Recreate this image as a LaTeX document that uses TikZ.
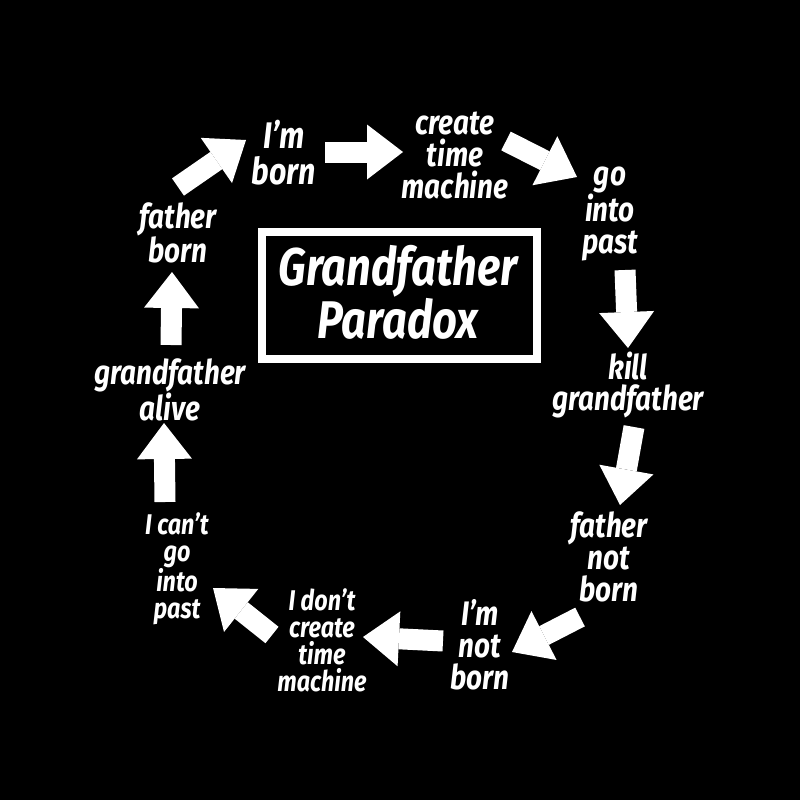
\documentclass[tikz,border=0pt]{standalone}
\usepackage{fontspec}
\setmainfont{Fira Sans}[FakeStretch=0.82]
\usetikzlibrary{arrows.meta}
\tikzset{
  lbl/.style={text=white, font=\fontsize{34}{32}\selectfont\bfseries\itshape, align=center, inner sep=0pt},
  smalllbl/.style={text=white, font=\fontsize{28.5}{27}\selectfont\bfseries\itshape, align=center, inner sep=0pt},
  titlelbl/.style={text=white, font=\fontsize{53}{50}\selectfont\bfseries\itshape, align=center, inner sep=0pt},
  blockarrow/.style={draw=white, line width=21pt, -{Triangle[length=36pt,width=55pt,line width=0pt]}}
}
\begin{document}
\begin{tikzpicture}[x=1pt,y=-1pt]
\fill[black] (0,0) rectangle (800,800);
\useasboundingbox (0,0) rectangle (800,800);
% title box
\draw[white, line width=8pt] (262,232) rectangle (537,359);
\node[titlelbl] (title) at (398,292) {Grandfather\\Paradox};
% labels
\node[lbl, font=\fontsize{37}{36}\selectfont\bfseries\itshape] (imborn) at (284,153) {I’m\\born};
\node[lbl] (create) at (455,155) {create\\time\\machine};
\node[lbl] (gopast) at (610,214) {go\\into\\past};
\node[lbl, font=\fontsize{34}{31}\selectfont\bfseries\itshape] (kill) at (628,385) {kill\\grandfather};
\node[lbl] (fnotborn) at (609,557) {father\\not\\born};
\node[lbl] (imnotborn) at (480,645) {I’m\\not\\born};
\node[smalllbl] (nocreate) at (322,640) {I don’t\\create\\time\\machine};
\node[smalllbl] (cantgo) at (177,569) {I can’t\\go\\into\\past};
\node[lbl, font=\fontsize{34}{30}\selectfont\bfseries\itshape] (galive) at (170,390) {grandfather\\alive};
\node[lbl, font=\fontsize{34}{30}\selectfont\bfseries\itshape] (fborn) at (178,233) {father\\born};
% arrow end points
\coordinate (a1s) at (178,187); \coordinate (a1e) at (246,140);
\coordinate (a2s) at (325,152); \coordinate (a2e) at (403,152);
\coordinate (a3s) at (506,141); \coordinate (a3e) at (577,177);
\coordinate (a4s) at (625,270); \coordinate (a4e) at (628,348);
\coordinate (a5s) at (634,427); \coordinate (a5e) at (620,505);
\coordinate (a6s) at (580,617); \coordinate (a6e) at (512,652);
\coordinate (a7s) at (443,641); \coordinate (a7e) at (363,637);
\coordinate (a8s) at (272,635); \coordinate (a8e) at (213,588);
\coordinate (a9s) at (165,502); \coordinate (a9e) at (164,423);
\coordinate (a10s) at (171,345); \coordinate (a10e) at (172,272);
\foreach \i in {1,...,10} {\draw[blockarrow] (a\i s) -- (a\i e);}
\end{tikzpicture}
\end{document}
